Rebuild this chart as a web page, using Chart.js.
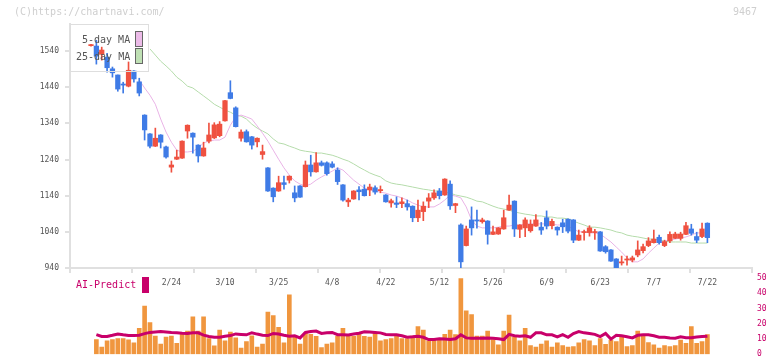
<!DOCTYPE html>
<html>
<head>
<meta charset="utf-8">
<script src="https://cdn.jsdelivr.net/npm/chart.js@4.4.1/dist/chart.umd.min.js"></script>
<style>
  html, body { margin: 0; padding: 0; background: #fff; overflow: hidden; }
  #wrap { position: relative; width: 772px; height: 361px; font-family: 'DejaVu Sans Mono', monospace; }
  canvas { position: absolute; left: 0; }
  #top { top: 0; }
  #bottom { top: 268px; }
  .txt { position: absolute; white-space: pre; line-height: 1; }
  .legend { position: absolute; left: 70px; top: 24px; width: 77px; height: 46px; border: 1px solid #dedede; }
  .sw { position: absolute; width: 6px; height: 14px; border: 1px solid #666; }
</style>
</head>
<body>
<div id="wrap">
  <canvas id="top" width="772" height="290"></canvas>
  <canvas id="bottom" width="772" height="96"></canvas>
  <div class="txt" style="left:14px;top:7px;font-size:10px;color:#cfcfcf;">(C)https://chartnavi.com/</div>
  <div class="txt" style="left:733px;top:7px;font-size:10px;color:#cfcfcf;">9467</div>
  <div class="legend"></div>
  <div class="txt" style="left:82px;top:35px;font-size:10px;color:#555;">5-day MA</div>
  <div class="txt" style="left:76px;top:52px;font-size:10px;color:#555;">25-day MA</div>
  <div class="sw" style="left:135px;top:31px;background:#ecbbe8;"></div>
  <div class="sw" style="left:135px;top:48px;background:#bfe0b4;"></div>
  <div class="txt" style="left:76px;top:280px;font-size:10px;color:#c8006a;">AI-Predict</div>
  <div style="position:absolute;left:142px;top:277px;width:7px;height:16px;background:#c8006a;"></div>
</div>
<script>
// date labels and the candle index they sit under
const dateLabels = ['2/24', '3/10', '3/25', '4/8', '4/22', '5/12', '5/26', '6/9', '6/23', '7/7', '7/22'];
const dateIdx = [15, 25, 35, 45, 55, 65, 75, 85, 95, 105, 115];
const priceTicks = [940, 1040, 1140, 1240, 1340, 1440, 1540];

const open = [1555,1554,1531,1523,1491,1474,1449,1443,1485,1455,
  1363,1311,1277,1308,1275,1219,1241,1244,1319,1313,
  1280,1250,1291,1300,1306,1347,1425,1383,1299,1317,
  1303,1289,1254,1217,1161,1153,1176,1183,1148,1167,
  1165,1225,1206,1231,1231,1228,1211,1170,1123,1131,
  1156,1158,1156,1162,1154,1142,1120,1120,1118,1118,
  1111,1079,1096,1125,1134,1153,1142,1172,1113,1059,
  1002,1073,1073,1068,1070,1033,1034,1048,1100,1125,
  1047,1051,1043,1056,1053,1079,1057,1053,1065,1075,
  1073,1017,1038,1038,1038,1040,999,990,965,954,
  962,962,976,988,1002,1010,1025,1002,1015,1022,
  1022,1033,1048,1027,1027,1064];
const high = [1559,1570,1551,1534,1496,1474,1454,1510,1486,1465,
  1364,1312,1327,1309,1277,1236,1266,1292,1336,1314,
  1281,1288,1341,1342,1345,1404,1458,1386,1322,1322,
  1304,1300,1280,1218,1162,1194,1194,1195,1167,1168,
  1236,1252,1259,1236,1234,1234,1217,1171,1133,1154,
  1165,1170,1172,1167,1167,1143,1131,1137,1134,1128,
  1112,1128,1123,1146,1156,1160,1187,1181,1119,1062,
  1056,1109,1100,1078,1071,1056,1052,1100,1142,1126,
  1060,1079,1073,1088,1066,1098,1075,1054,1075,1076,
  1074,1045,1045,1057,1047,1041,1002,991,966,973,
  973,973,1015,1006,1024,1045,1031,1017,1040,1039,
  1039,1066,1061,1039,1064,1065];
const low = [1554,1504,1515,1482,1468,1429,1424,1441,1454,1416,
  1294,1272,1276,1272,1244,1205,1240,1243,1299,1258,
  1233,1249,1286,1298,1303,1346,1408,1330,1291,1288,
  1269,1275,1241,1152,1123,1152,1158,1175,1123,1135,
  1164,1194,1205,1222,1197,1217,1171,1125,1110,1130,
  1128,1139,1140,1144,1148,1122,1108,1107,1107,1100,
  1068,1068,1071,1107,1130,1131,1141,1102,1093,937,
  1001,1031,1050,1064,1006,1032,1033,1047,1099,1027,
  1024,1027,1039,1055,1033,1048,1048,1031,1038,1037,
  1010,1016,1017,1028,1019,986,981,958,936,948,
  948,957,971,982,999,1009,1006,999,1010,1021,
  1017,1032,1031,1010,1024,1010];
const close = [1558,1526,1543,1494,1480,1435,1446,1487,1463,1424,
  1322,1277,1299,1288,1247,1225,1247,1291,1335,1302,
  1250,1272,1308,1336,1338,1403,1409,1331,1316,1289,
  1280,1299,1262,1153,1137,1176,1171,1194,1134,1136,
  1225,1206,1231,1224,1201,1219,1179,1128,1128,1153,
  1151,1140,1164,1150,1157,1123,1126,1116,1123,1109,
  1079,1100,1111,1134,1148,1140,1186,1112,1118,957,
  1048,1051,1070,1073,1033,1040,1051,1079,1114,1048,
  1059,1073,1061,1073,1045,1056,1069,1045,1054,1042,
  1017,1031,1040,1051,1040,987,985,959,937,957,
  965,968,990,999,1015,1020,1010,1013,1033,1034,
  1034,1057,1036,1017,1048,1024];

const ma5 = [null,null,null,null,null,null,null,null,null,1460,
  1438,1418,1393,1352,1316,1288,1266,1261,1261,1263,
  1272,1286,1291,1294,1294,1302,1335,1358,1363,1358,
  1352,1333,1313,1291,1266,1241,1217,1197,1181,1172,
  1167,1172,1183,1192,1200,1208,1217,1211,1197,1183,
  1172,1161,1156,1153,1150,1147,1142,1139,1134,1128,
  1120,1114,1109,1109,1109,1117,1128,1142,1139,1134,
  1109,1073,1056,1051,1051,1051,1053,1056,1056,1059,
  1059,1062,1062,1062,1062,1062,1062,1059,1059,1056,
  1048,1040,1040,1037,1037,1034,1023,1012,998,984,
  968,957,957,965,981,995,1009,1015,1017,1020,
  1023,1026,1031,1037,1037,1037];
const ma25 = [null,null,null,null,null,null,null,null,null,null,
  null,1546,1529,1512,1499,1485,1468,1457,1443,1438,
  1427,1416,1405,1393,1385,1377,1371,1363,1360,1352,
  1338,1327,1319,1311,1297,1286,1283,1277,1272,1266,
  1263,1261,1258,1258,1255,1252,1247,1241,1236,1228,
  1219,1211,1203,1197,1192,1181,1175,1172,1170,1167,
  1164,1161,1158,1156,1153,1153,1150,1147,1142,1139,
  1136,1131,1125,1123,1117,1111,1106,1103,1100,1095,
  1092,1089,1087,1084,1084,1081,1081,1078,1078,1076,
  1070,1064,1059,1053,1053,1051,1048,1045,1040,1037,
  1031,1028,1026,1023,1020,1020,1017,1015,1012,1012,
  1012,1012,1009,1009,1009,1009];

const volume = [null,9.6,4.6,8.8,9.6,10.3,10.3,9.4,7.5,17,
  31.6,20.8,11.9,6.7,11.3,11.9,7.1,13.4,15.1,24.5,
  15.1,24.5,10.3,5.5,15.9,8.8,14.5,10.7,4,8.2,
  12,4.6,6.7,27.7,25.3,17.6,7.5,39,11.9,6.7,
  13.8,13,11.8,4.4,6.7,7.5,11.8,17,11.8,11.8,
  13,11.8,11.3,13.8,8.8,9.6,10.3,11.9,10.3,10.3,
  11.9,18.2,15.9,8.8,9.6,9.6,13,15.9,12.8,49.7,
  28.5,26,11.9,11.9,15.1,9.6,6.1,15.1,25.6,11.3,
  8.8,17,5.7,4.6,6.7,8.8,4.6,7.5,5.7,4.6,
  5,7.5,9.6,8.8,5.7,10.3,6.5,9.2,8.2,11.9,
  5,5.7,15.1,11.9,7.7,6.1,4,5.7,5,5.7,
  9.2,7.1,18.2,7.1,8.2,12.8];
const aiPredict = [null,12.8,11.6,11.6,12.4,13.3,12.7,12.2,12.2,12.5,
  13.5,14.3,14.6,14.9,14.6,14.3,14.1,13.8,13.6,14,
  14,12.5,11.6,11.1,11.1,11.8,12.2,13.3,13,12.7,
  14.1,13.2,12.4,12.2,13.6,13.3,12.4,11.8,12.1,10.7,
  14.3,14.9,15.2,13.6,14,14.3,12.8,12.7,12.6,13.2,
  13.8,14.7,14.6,14.3,14,13,12.8,12.8,12.1,11.1,
  11.4,11.8,11.1,9.6,9.6,10.1,9.9,9.7,10.1,12.8,
  10.7,10.5,10.5,10.5,10.7,10.5,10.1,9.6,13,12.1,
  11.8,12.1,11.1,14,14,12.7,12.7,11.4,12.8,11.1,
  13.6,14.9,14,13.6,13,11.6,13.6,9.9,12.4,12.1,
  11.4,10.7,12.4,12.8,12.8,12.1,11.1,11.1,10.6,10.5,
  11.4,10.8,10.8,11.3,11.6,11.8];

const upColor = '#ef5140';
const downColor = '#3f7be6';
const candleColor = open.map((o, i) => close[i] >= o ? upColor : downColor);

const xMin = -3.92, xMax = 123.32;
const gridTicks = [];
for (let k = 0; k <= 11; k++) gridTicks.push(xMin + k * (xMax - xMin) / 11);

Chart.defaults.font.family = "'DejaVu Sans Mono', monospace";
Chart.defaults.animation = false;

const xy = arr => arr.map((v, i) => ({ x: i, y: v }));

new Chart(document.getElementById('top'), {
  type: 'bar',
  data: {
    datasets: [
      {
        type: 'line', label: '25-day MA', data: xy(ma25), order: 3,
        borderColor: '#b5dcab', borderWidth: 1, pointRadius: 0, tension: 0
      },
      {
        type: 'line', label: '5-day MA', data: xy(ma5), order: 2,
        borderColor: '#e9b3e6', borderWidth: 1, pointRadius: 0, tension: 0
      },
      {
        label: 'wick', data: low.map((l, i) => ({ x: i, y: [l, high[i]] })), order: 1,
        backgroundColor: candleColor, barThickness: 1, grouped: false
      },
      {
        label: 'body', data: open.map((o, i) => ({ x: i, y: [o, close[i]] })), order: 0,
        backgroundColor: candleColor, barThickness: 4.6, minBarLength: 1, grouped: false
      }
    ]
  },
  options: {
    responsive: false,
    layout: { padding: { top: 24, right: 20, left: 0, bottom: 0 } },
    plugins: { legend: { display: false }, tooltip: { enabled: false } },
    scales: {
      x: {
        type: 'linear', min: xMin, max: xMax, weight: 0, offset: false,
        grid: { drawOnChartArea: false, tickLength: 5, color: '#e0e0e0', lineWidth: 2, offset: false },
        border: { color: '#e0e0e0', width: 2 },
        ticks: { display: false },
        afterBuildTicks: s => { s.ticks = gridTicks.map(v => ({ value: v })); },
        afterFit: s => { s.height = 5; }
      },
      xd: {
        type: 'linear', position: 'bottom', min: xMin, max: xMax, weight: 1, offset: false,
        grid: { display: false, drawTicks: false, offset: false },
        border: { display: false },
        ticks: {
          autoSkip: false, maxRotation: 0, padding: 5, color: '#555', font: { size: 8 },
          callback: (v, i) => dateLabels[i]
        },
        afterBuildTicks: s => { s.ticks = dateIdx.map(v => ({ value: v })); },
        afterFit: s => { s.height = 17; }
      },
      y: {
        type: 'linear', position: 'left', min: 940, max: 1615,
        grid: { drawOnChartArea: false, tickLength: 5, color: '#e0e0e0', lineWidth: 2 },
        border: { color: '#e0e0e0', width: 2 },
        ticks: { padding: 6, color: '#555', font: { size: 8 }, callback: v => String(v) },
        afterBuildTicks: s => { s.ticks = priceTicks.map(v => ({ value: v })); },
        afterFit: s => { s.width = 70; }
      }
    }
  }
});

new Chart(document.getElementById('bottom'), {
  type: 'bar',
  data: {
    datasets: [
      {
        type: 'line', label: 'AI-Predict', data: xy(aiPredict), order: 0,
        borderColor: '#c8006a', borderWidth: 3, pointRadius: 0, tension: 0
      },
      {
        label: 'volume', data: xy(volume), order: 1,
        backgroundColor: '#f0963e', barThickness: 4
      }
    ]
  },
  options: {
    responsive: false,
    layout: { padding: { top: 10, right: 0, left: 70, bottom: 6 } },
    plugins: { legend: { display: false }, tooltip: { enabled: false } },
    scales: {
      x: { type: 'linear', min: xMin, max: xMax, display: false, offset: false },
      y: {
        position: 'right', min: 0, max: 50,
        grid: { display: false, drawTicks: false }, border: { display: false },
        ticks: { stepSize: 10, padding: 5, color: '#c8006a', font: { size: 8 } },
        afterFit: s => { s.width = 20; }
      }
    }
  }
});
</script>
</body>
</html>
